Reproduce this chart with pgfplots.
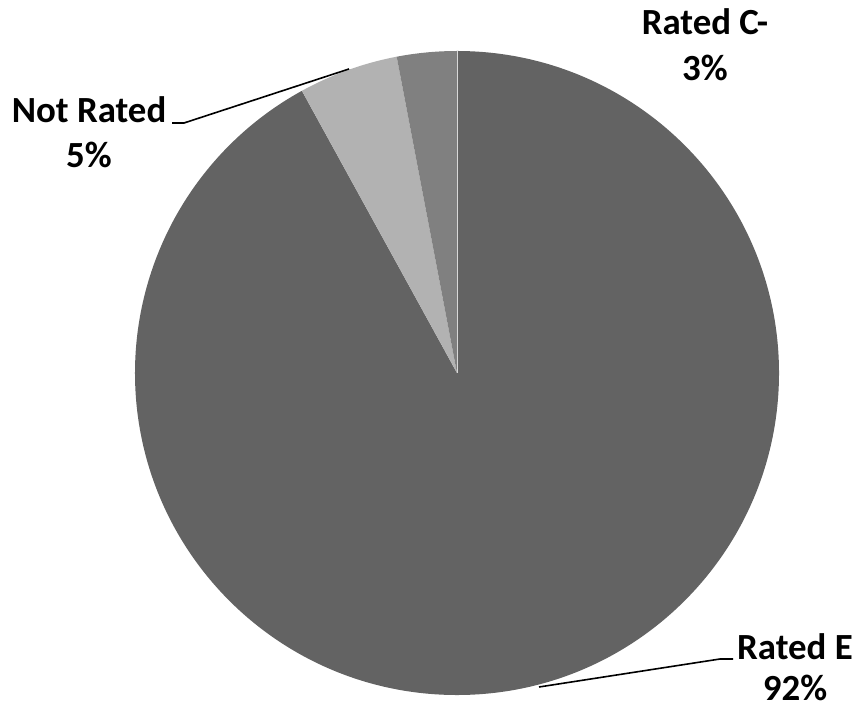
\documentclass[border=0pt]{standalone}
\usepackage{pgfplots}
\pgfplotsset{compat=1.18}
\usepackage{fontspec}
\setmainfont{Carlito}

% slice shares in percent, clockwise from 12 o'clock
\def\valE{92}   % Rated E
\def\valN{5}    % Not Rated
\def\valC{3}    % Rated C-
\pgfmathsetmacro\aA{90}
\pgfmathsetmacro\aB{\aA-3.6*\valE}
\pgfmathsetmacro\aC{\aB-3.6*\valN}
\pgfmathsetmacro\aD{\aC-3.6*\valC}
\def\R{322}          % radius in axis units
\def\Rc{161bp}       % same radius on the canvas (x=y=0.5bp)

\definecolor{colE}{HTML}{636363}
\definecolor{colN}{HTML}{B2B2B2}
\definecolor{colC}{HTML}{808080}

\begin{document}
\begin{tikzpicture}
\begin{axis}[
  x=0.5bp, y=0.5bp,
  xmin=-457, xmax=398, ymin=-331, ymax=373,
  hide axis, clip=false,
  enlargelimits=false,
]
\fill[colE] (axis cs:0,0) -- (axis cs:{\R*cos(\aA)},{\R*sin(\aA)})
  arc[start angle=\aA, end angle=\aB, radius=\Rc] -- cycle;
\fill[colN] (axis cs:0,0) -- (axis cs:{\R*cos(\aB)},{\R*sin(\aB)})
  arc[start angle=\aB, end angle=\aC, radius=\Rc] -- cycle;
\fill[colC] (axis cs:0,0) -- (axis cs:{\R*cos(\aC)},{\R*sin(\aC)})
  arc[start angle=\aC, end angle=\aD, radius=\Rc] -- cycle;
\draw[white!75!colE, line width=0.4bp] (axis cs:0,0) -- (axis cs:0,\R);

% leader lines
\draw[black, line width=0.8bp] (axis cs:-285,250) -- (axis cs:-273,250) -- (axis cs:-108,304);
\draw[black, line width=0.8bp] (axis cs:82,-314) -- (axis cs:263,-286) -- (axis cs:276,-286);

% labels
\begin{scope}[every node/.style={font=\fontsize{18.5}{22}\selectfont\bfseries, inner sep=0pt}]
\node[anchor=base] at (axis cs:248,338) {Rated C-};
\node[anchor=base] at (axis cs:248,292) {3\%};
\node[anchor=base] at (axis cs:-368,250) {Not Rated};
\node[anchor=base] at (axis cs:-368,205) {5\%};
\node[anchor=base] at (axis cs:338,-287) {Rated E};
\node[anchor=base] at (axis cs:338,-328) {92\%};
\end{scope}

\coordinate (bl) at (axis cs:-457,-331);
\coordinate (tr) at (axis cs:398,373);
\end{axis}
\pgfresetboundingbox
\path (bl) rectangle (tr);
\end{tikzpicture}
\end{document}
